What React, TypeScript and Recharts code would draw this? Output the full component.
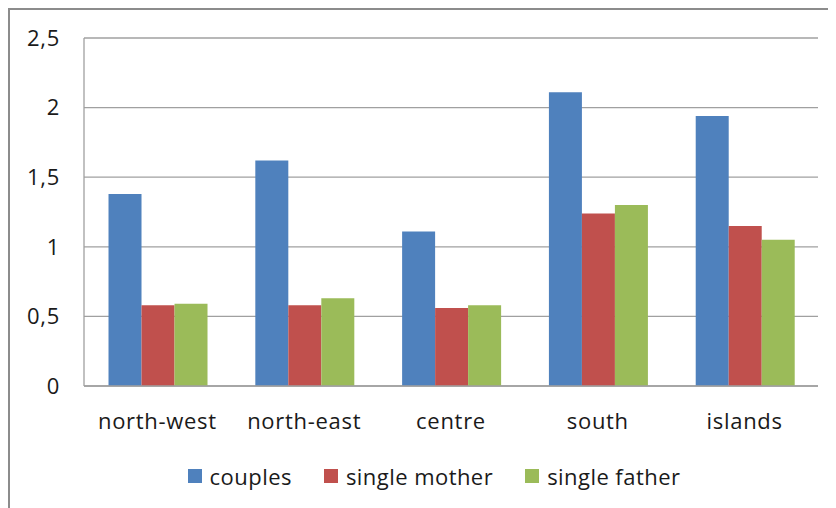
import React from "react";
import { BarChart, Bar, XAxis, YAxis, CartesianGrid, Legend } from "recharts";

const categories = ["north-west", "north-east", "centre", "south", "islands"];
const couples = [1.38, 1.62, 1.11, 2.11, 1.94];
const singleMother = [0.58, 0.58, 0.56, 1.24, 1.15];
const singleFather = [0.59, 0.63, 0.58, 1.3, 1.05];
const yTicks = [0, 0.5, 1, 1.5, 2, 2.5];

const seriesMeta = [
  { key: "couples", name: "couples", color: "#4f81bd" },
  { key: "singleMother", name: "single mother", color: "#c0504d" },
  { key: "singleFather", name: "single father", color: "#9bbb59" },
];

const data = categories.map((c, i) => ({
  name: c,
  couples: couples[i],
  singleMother: singleMother[i],
  singleFather: singleFather[i],
}));

const FONT = "'Open Sans', sans-serif";

const LegendContent = () => (
  <div
    style={{
      display: "flex",
      justifyContent: "center",
      alignItems: "center",
      height: 56,
      fontFamily: FONT,
      fontSize: 22,
      letterSpacing: 0.45,
      color: "#1a1a1a",
      paddingLeft: 40,
    }}
  >
    {seriesMeta.map((s, i) => (
      <div
        key={s.key}
        style={{ display: "flex", alignItems: "center", marginLeft: i === 0 ? 0 : 32 }}
      >
        <div style={{ width: 14, height: 14, background: s.color, marginRight: 8 }} />
        <span>{s.name}</span>
      </div>
    ))}
  </div>
);

export default function App() {
  return (
    <div
      style={{
        position: "relative",
        width: 828,
        height: 500,
        borderTop: "2px solid #8c8c8c",
        borderLeft: "2px solid #8c8c8c",
        boxSizing: "border-box",
        background: "#fff",
      }}
    >
      <BarChart
        width={826}
        height={498}
        data={data}
        margin={{ top: 28, right: 18, left: 0, bottom: 4 }}
        barCategoryGap="16.7%"
        barGap={0}
      >
        <CartesianGrid vertical={false} stroke="#a0a0a0" strokeWidth={1.3} />
        <XAxis
          dataKey="name"
          height={62}
          tickLine={false}
          tickSize={0}
          tickMargin={27}
          axisLine={{ stroke: "#a0a0a0", strokeWidth: 1.3 }}
          tick={{ fontFamily: FONT, fontSize: 22, fill: "#1a1a1a", letterSpacing: 0.7 }}
          interval={0}
        />
        <YAxis
          width={74}
          domain={[0, 2.5]}
          ticks={yTicks}
          tickLine={false}
          tickSize={0}
          tickMargin={24}
          axisLine={{ stroke: "#a0a0a0", strokeWidth: 1.3 }}
          tick={{ fontFamily: FONT, fontSize: 22, fill: "#1a1a1a", letterSpacing: 0.7 }}
          tickFormatter={(v: number) => String(v).replace(".", ",")}
        />
        <Legend verticalAlign="bottom" content={<LegendContent />} height={56} />
        {seriesMeta.map((s) => (
          <Bar
            key={s.key}
            dataKey={s.key}
            name={s.name}
            fill={s.color}
            isAnimationActive={false}
          />
        ))}
      </BarChart>
    </div>
  );
}
